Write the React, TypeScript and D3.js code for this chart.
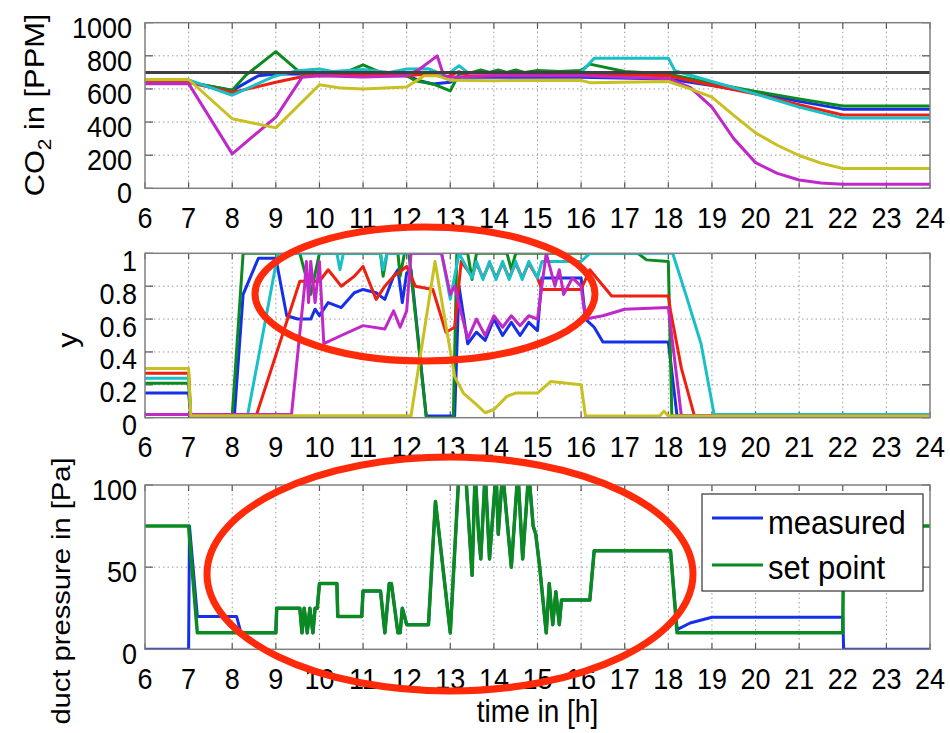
import React from "react";
import * as d3 from "d3";

// ---------- tick labels ----------
const xTicks = [6, 7, 8, 9, 10, 11, 12, 13, 14, 15, 16, 17, 18, 19, 20, 21, 22, 23, 24];
const co2Ticks = [0, 200, 400, 600, 800, 1000];
const yTicksCtrl = [0, 0.2, 0.4, 0.6, 0.8, 1];
const pressureTicks = [0, 50, 100];
const co2Limit = 700;

// ---------- CO2 [PPM] ----------
const co2Blue: [number, number][] = [[6, 640], [7, 640], [8, 590], [8.6, 680], [9, 690], [10, 690], [11, 680], [12, 680], [12.3, 650], [12.6, 630], [13, 640], [13.2, 670], [14, 670], [15, 670], [16, 670], [18, 660], [19, 620], [20, 575], [21, 525], [22, 478], [24, 478]];
const co2Green: [number, number][] = [[6, 640], [7, 640], [8, 592], [8.3, 680], [9, 825], [9.6, 690], [10, 690], [10.5, 690], [11, 745], [11.4, 700], [12, 680], [12.2, 650], [12.6, 630], [13, 588], [13.2, 690], [13.5, 700], [13.7, 715], [13.9, 700], [14.1, 715], [14.3, 700], [14.5, 715], [14.7, 700], [15, 712], [15.5, 705], [16, 712], [16.2, 750], [17, 705], [18, 690], [19, 635], [20, 585], [21, 540], [22, 497], [24, 497]];
const co2Red: [number, number][] = [[6, 640], [7, 640], [8, 578], [9, 640], [9.7, 680], [10, 680], [11, 682], [12, 680], [12.5, 690], [12.9, 670], [13.2, 705], [13.4, 680], [14, 680], [16, 690], [18, 680], [19, 622], [20, 570], [21, 505], [22, 443], [24, 443]];
const co2Cyan: [number, number][] = [[6, 655], [7, 655], [8, 562], [9, 680], [9.5, 710], [10, 720], [10.3, 705], [11, 718], [11.6, 700], [12, 720], [12.5, 722], [12.8, 690], [13.0, 700], [13.2, 740], [13.4, 700], [14, 700], [16, 700], [16.3, 785], [18, 785], [18.15, 710], [19, 645], [20, 570], [21, 490], [22, 424], [24, 424]];
const co2Magenta: [number, number][] = [[6, 632], [7, 632], [8, 208], [9, 430], [9.6, 670], [10, 680], [11, 672], [12, 680], [12.3, 720], [12.7, 800], [12.85, 680], [13, 670], [14, 680], [15, 680], [16, 680], [18, 662], [18.5, 610], [19, 490], [19.5, 300], [20, 155], [20.5, 90], [21, 50], [21.5, 32], [22, 25], [24, 25]];
const co2Yellow: [number, number][] = [[6, 657], [7, 657], [8, 420], [9, 365], [10, 625], [10.5, 605], [11, 600], [11.5, 605], [12, 612], [12.4, 680], [12.7, 680], [13, 652], [14, 650], [16, 652], [16.2, 638], [18, 645], [18.5, 600], [19, 550], [19.5, 440], [20, 335], [20.5, 260], [21, 198], [21.5, 152], [22, 120], [24, 120]];

// ---------- control signal y ----------
const yBlue: [number, number][] = [[6, 0.15], [7, 0.15], [7.05, 0.012], [8.05, 0.012], [8.25, 0.75], [8.6, 0.97], [9, 0.97], [9.25, 0.62], [9.5, 0.6], [9.8, 0.6], [9.9, 0.66], [10, 0.62], [10.2, 0.7], [10.5, 0.67], [10.8, 0.76], [11, 0.78], [11.3, 0.76], [11.5, 0.72], [11.7, 0.86], [11.8, 0.9], [11.9, 0.7], [12, 0.88], [12.1, 0.9], [12.45, 0.01], [13.1, 0.01], [13.2, 0.8], [13.4, 0.45], [13.6, 0.52], [13.8, 0.47], [14, 0.6], [14.2, 0.5], [14.4, 0.58], [14.6, 0.5], [14.8, 0.58], [15, 0.53], [15.1, 0.85], [16, 0.85], [16.1, 0.6], [16.3, 0.55], [16.5, 0.46], [18, 0.46], [18.2, 0.01], [24, 0.01]];
const yGreen: [number, number][] = [[6, 0.21], [7, 0.21], [7.05, 0.012], [8.0, 0.012], [8.25, 1], [9.55, 1], [9.8, 0.75], [10, 1], [11.4, 1], [11.46, 0.86], [11.55, 1], [11.8, 1], [11.85, 0.86], [11.95, 1], [12.05, 1], [12.45, 0.0], [13.07, 0.0], [13.15, 1], [13.4, 1], [13.5, 0.84], [13.6, 1], [14.3, 1], [14.4, 0.9], [14.5, 1], [16, 1], [17.3, 1], [17.5, 0.96], [18, 0.95], [18.08, 0.01], [24, 0.01]];
const yRed: [number, number][] = [[6, 0.27], [7, 0.27], [7.05, 0.012], [8.55, 0.012], [9.55, 0.83], [10, 0.83], [10.2, 0.9], [10.5, 0.8], [10.8, 0.86], [11, 0.92], [11.3, 0.72], [11.5, 0.8], [11.7, 0.86], [12, 0.92], [12.2, 0.8], [12.6, 0.78], [12.9, 0.52], [13.1, 0.55], [13.25, 0.95], [13.5, 0.86], [13.6, 0.94], [13.75, 0.85], [13.9, 0.94], [14.05, 0.85], [14.2, 0.94], [14.35, 0.85], [14.5, 0.94], [14.65, 0.85], [14.8, 0.94], [15, 0.85], [15.1, 0.78], [16, 0.78], [16.2, 0.9], [16.7, 0.74], [18, 0.74], [18.05, 0.65], [18.3, 0.3], [18.6, 0.01], [24, 0.01]];
const yCyan: [number, number][] = [[6, 0.24], [7, 0.24], [7.05, 0.012], [8.35, 0.012], [9.05, 1], [10.4, 1], [10.47, 0.9], [10.55, 1], [11.4, 1], [11.46, 0.9], [11.55, 1], [12.8, 1], [13.0, 0.72], [13.2, 1], [13.5, 0.85], [13.6, 0.95], [13.75, 0.84], [13.9, 0.95], [14.05, 0.84], [14.2, 0.95], [14.35, 0.84], [14.5, 0.95], [14.65, 0.84], [14.8, 0.95], [15, 0.85], [15.1, 0.95], [16, 0.95], [16.2, 1], [18.1, 1], [18.4, 0.75], [18.75, 0.45], [19.05, 0.02], [24, 0.02]];
const yMagenta: [number, number][] = [[6, 0.02], [7, 0.02], [9.36, 0.02], [9.66, 0.8], [9.7, 0.95], [9.75, 0.7], [9.8, 0.95], [9.9, 0.7], [10, 0.95], [10.1, 0.45], [10.5, 0.5], [11, 0.56], [11.5, 0.54], [11.7, 0.65], [11.85, 0.55], [12, 0.65], [12.1, 1], [12.8, 1], [13, 0.75], [13.1, 0.8], [13.4, 0.48], [13.6, 0.6], [13.8, 0.5], [14, 0.62], [14.2, 0.55], [14.4, 0.62], [14.6, 0.56], [14.8, 0.62], [15, 0.6], [15.2, 1], [15.4, 0.8], [15.5, 0.9], [15.6, 0.75], [15.8, 0.85], [16, 0.8], [16.1, 0.6], [16.5, 0.62], [17, 0.66], [18, 0.67], [18.3, 0.01], [24, 0.01]];
const yYellow: [number, number][] = [[6, 0.3], [7, 0.3], [7.05, 0.012], [12.1, 0.012], [12.65, 0.95], [13.1, 0.25], [13.3, 0.15], [13.6, 0.08], [13.8, 0.03], [14, 0.05], [14.3, 0.13], [14.5, 0.15], [15, 0.15], [15.3, 0.22], [16, 0.2], [16.1, 0.01], [17.8, 0.01], [17.9, 0.04], [18, 0.01], [24, 0.01]];

// ---------- duct pressure [Pa] ----------
const pressureShared: [number, number][] = [[9, 10], [9.02, 25], [9.55, 25], [9.6, 10], [9.65, 25], [9.72, 10], [9.78, 25], [9.85, 10], [9.9, 25], [9.95, 25], [10, 40], [10.4, 40], [10.42, 20], [10.97, 20], [11, 35.5], [11.4, 35.5], [11.5, 10], [11.6, 40], [11.65, 40], [11.8, 10], [11.85, 10], [11.9, 25], [12, 15], [12.5, 15], [12.66, 90], [13.0, 10], [13.2, 108], [13.35, 108], [13.5, 45], [13.57, 108], [13.65, 70], [13.7, 55], [13.8, 108], [13.9, 55], [14.05, 108], [14.1, 70], [14.2, 108], [14.4, 50], [14.55, 108], [14.66, 55], [14.8, 108], [14.9, 75], [14.96, 70], [15.05, 50], [15.2, 10], [15.27, 40], [15.35, 15], [15.42, 35], [15.5, 15], [15.55, 30], [16.2, 30], [16.3, 60], [18.05, 60]];
const measuredStart: [number, number][] = [[6, 0], [7, 0], [7.02, 75], [7.2, 20], [8.1, 20], [8.2, 10]];
const measuredEnd: [number, number][] = [[18.2, 12], [18.5, 16], [19, 19.5], [22, 19.5], [22.02, 0], [24, 0]];
const setPointStart: [number, number][] = [[6, 75], [7, 75], [7.2, 10]];
const setPointEnd: [number, number][] = [[18.2, 10], [22, 10], [22.02, 75], [24, 75]];
const measured = [...measuredStart, ...pressureShared, ...measuredEnd];
const setPoint = [...setPointStart, ...pressureShared, ...setPointEnd];

// ---------- style ----------
const C = {
  blue: "#1530e8",
  green: "#0a8a20",
  red: "#f02010",
  cyan: "#18c0c8",
  magenta: "#c028c8",
  yellow: "#c8c020",
  black: "#404040",
};
const FONT = "'Liberation Sans', Arial, Helvetica, sans-serif";
const X0 = 145, X1 = 930;
const SY = 1.1; // vertical stretch of glyphs in the reference

function T(props: { x: number; y: number; anchor?: string; size: number; children: React.ReactNode }) {
  const { x, y, anchor, size, children } = props;
  return (
    <text transform={`translate(${x},${y}) scale(1,${SY})`} textAnchor={anchor || "start"} fontSize={size} fontFamily={FONT} fill="#000">
      {children}
    </text>
  );
}

function RT(props: { x: number; y: number; size: number; children: React.ReactNode }) {
  const { x, y, size, children } = props;
  return (
    <text transform={`translate(${x},${y}) rotate(-90) scale(${SY},1)`} textAnchor="middle" fontSize={size} fontFamily={FONT} fill="#000">
      {children}
    </text>
  );
}

type Series = { data: [number, number][]; color: string; width: number };

function Panel(props: {
  id: string; top: number; bottom: number; domain: [number, number];
  ticks: number[]; fmt: (v: number) => string; labelRight: number; labelOff: number;
  series: Series[]; xLabelBase: number;
}) {
  const { id, top, bottom, domain, ticks, fmt, labelRight, labelOff, series, xLabelBase } = props;
  const x = d3.scaleLinear().domain([6, 24]).range([X0, X1]);
  const y = d3.scaleLinear().domain(domain).range([bottom, top]);
  const line = d3.line<[number, number]>().x(d => x(d[0])).y(d => y(d[1]));
  return (
    <g>
      <defs>
        <clipPath id={id}>
          <rect x={X0} y={top} width={X1 - X0} height={bottom - top} />
        </clipPath>
      </defs>
      <rect x={X0} y={top} width={X1 - X0} height={bottom - top} fill="#fff" />
      {xTicks.slice(1, -1).map(t => (
        <line key={"gx" + t} x1={x(t)} x2={x(t)} y1={top} y2={bottom} stroke="#9a9a9a" strokeWidth={1} strokeDasharray="1.5,3" />
      ))}
      {ticks.slice(1, -1).map(t => (
        <line key={"gy" + t} x1={X0} x2={X1} y1={y(t)} y2={y(t)} stroke="#9a9a9a" strokeWidth={1} strokeDasharray="1.5,3" />
      ))}
      {xTicks.map(t => (
        <g key={"tx" + t}>
          <line x1={x(t)} x2={x(t)} y1={bottom} y2={bottom - 6} stroke="#555" strokeWidth={1.2} />
          <line x1={x(t)} x2={x(t)} y1={top} y2={top + 6} stroke="#555" strokeWidth={1.2} />
        </g>
      ))}
      {ticks.map(t => (
        <g key={"ty" + t}>
          <line x1={X0} x2={X0 + 8} y1={y(t)} y2={y(t)} stroke="#555" strokeWidth={1.2} />
          <line x1={X1} x2={X1 - 8} y1={y(t)} y2={y(t)} stroke="#555" strokeWidth={1.2} />
        </g>
      ))}
      <g clipPath={`url(#${id})`}>
        {series.map((s, i) => (
          <path key={i} d={line(s.data) || ""} fill="none" stroke={s.color} strokeWidth={s.width} strokeLinejoin="round" />
        ))}
      </g>
      <rect x={X0} y={top} width={X1 - X0} height={bottom - top} fill="none" stroke="#808080" strokeWidth={1.5} />
      {xTicks.map(t => (
        <T key={"lx" + t} x={x(t)} y={xLabelBase} anchor="middle" size={27}>{t}</T>
      ))}
      {ticks.map(t => (
        <T key={"ly" + t} x={labelRight} y={y(t) + labelOff + 10} anchor="end" size={27}>{fmt(t)}</T>
      ))}
    </g>
  );
}

export default function App() {
  const p1 = { top: 22.7, bottom: 188.3 };
  const p2 = { top: 253.3, bottom: 417.7 };
  const p3 = { top: 485, bottom: 649.3 };
  return (
    <svg width={950} height={733} style={{ position: "absolute", left: 0, top: 0, background: "#fff" }}>
      <rect x={0} y={0} width={950} height={733} fill="#fff" />
      <Panel id="c1" {...p1} domain={[0, 1000]} ticks={co2Ticks} fmt={v => String(v)} labelRight={132} labelOff={5} xLabelBase={228}
        series={[
          { data: co2Blue, color: C.blue, width: 3 },
          { data: co2Green, color: C.green, width: 3 },
          { data: co2Red, color: C.red, width: 3 },
          { data: co2Cyan, color: C.cyan, width: 3 },
          { data: co2Magenta, color: C.magenta, width: 3 },
          { data: co2Yellow, color: C.yellow, width: 3 },
          { data: [[6, co2Limit], [24, co2Limit]], color: C.black, width: 3 },
        ]} />
      <Panel id="c2" {...p2} domain={[0, 1]} ticks={yTicksCtrl} fmt={v => String(v)} labelRight={137} labelOff={7.5} xLabelBase={457}
        series={[
          { data: yBlue, color: C.blue, width: 3 },
          { data: yGreen, color: C.green, width: 3 },
          { data: yRed, color: C.red, width: 3 },
          { data: yCyan, color: C.cyan, width: 3 },
          { data: yMagenta, color: C.magenta, width: 3 },
          { data: yYellow, color: C.yellow, width: 3 },
        ]} />
      <Panel id="c3" {...p3} domain={[0, 100]} ticks={pressureTicks} fmt={v => String(v)} labelRight={137} labelOff={4.5} xLabelBase={689}
        series={[
          { data: measured, color: C.blue, width: 3 },
          { data: setPoint, color: C.green, width: 3.5 },
        ]} />

      {/* axis labels */}
      <RT x={44} y={105} size={28}>
        <tspan>CO</tspan><tspan fontSize={19} dy={7}>2</tspan><tspan dy={-7}> in [PPM]</tspan>
      </RT>
      <RT x={77} y={340} size={28}>y</RT>
      <RT x={70} y={591} size={26.5}>duct pressure in [Pa]</RT>
      <T x={537.5} y={722} anchor="middle" size={28}>time in [h]</T>

      {/* legend */}
      <rect x={702} y={494} width={221} height={97} fill="#fff" stroke="#333" strokeWidth={1.2} />
      <line x1={712} x2={763} y1={518} y2={518} stroke={C.blue} strokeWidth={3} />
      <line x1={712} x2={763} y1={565} y2={565} stroke={C.green} strokeWidth={3} />
      <T x={768} y={534} size={31}>measured</T>
      <T x={768} y={579} size={31}>set point</T>

      {/* red annotation ellipses */}
      <ellipse cx={425} cy={294} rx={170} ry={67} fill="none" stroke="#ff2a0a" strokeWidth={7} />
      <ellipse cx={450} cy={574} rx={243} ry={117} fill="none" stroke="#ff2a0a" strokeWidth={7} />
    </svg>
  );
}
